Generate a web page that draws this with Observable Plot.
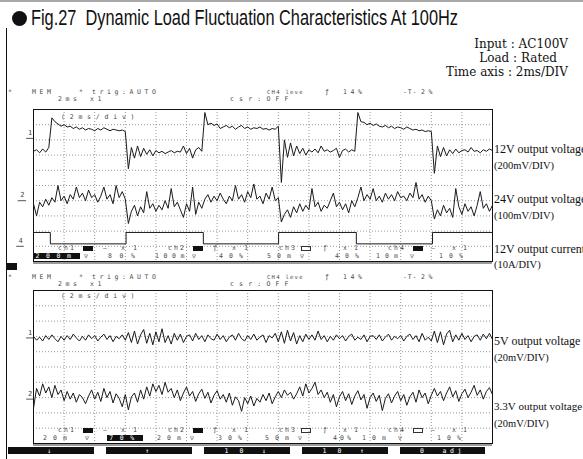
<!DOCTYPE html>
<html>
<head>
<meta charset="utf-8">
<script src="https://cdn.jsdelivr.net/npm/d3@7"></script>
<script src="https://cdn.jsdelivr.net/npm/@observablehq/plot@0.6"></script>
<style>
html,body{margin:0;padding:0;background:#fff;}
#root{position:relative;width:583px;height:459px;overflow:hidden;background:#fff;}
#root svg{position:absolute;left:0;}
.a{position:absolute;white-space:pre;}
.sc{font-family:"DejaVu Sans Mono",monospace;font-size:6.5px;line-height:6px;color:#4a4a4a;}
.serif{font-family:"DejaVu Serif","Liberation Serif",serif;color:#111;}
</style>
</head>
<body>
<div id="root"></div>
<script>
// ---------------- data ----------------
const titleText = "Fig.27  Dynamic Load Fluctuation Characteristics At 100Hz";
const conditions = ["Input : AC100V", "Load : Rated", "Time axis : 2ms/DIV"];

// sample times (ms), 0.2 ms apart over the 30 ms screen (15 div x 2 ms)
const sampleMs = d3.range(151).map(i => +(i * 0.2).toFixed(1));
const gridMs = [2, 4, 6, 8, 10, 12, 14, 16, 18, 20, 22, 24, 26, 28];
const gridDiv = [1, 2, 3, 4, 5, 6, 7, 8, 9];

// Screen 1 : 12V output voltage (mV, 200 mV/div)
const v12_mV = [
 -170,-150,-190,-140,-180,-120,
 270,
 220,190,160,180,150,160,130,150,120,140,110,130,120,100,130,110,140,120,100,120,110,100,110,90,
 -400,
 -120,-260,-100,-240,-130,-210,-150,-230,-160,-190,-170,-200,-180,-160,-190,-170,-180,
 -100,-200,-130,-260,-150,-120,-170,
 340,
 180,200,170,190,130,150,170,140,160,120,150,170,130,150,120,140,130,150,120,130,110,130,120,160,
 -580,
 -20,-250,-60,-230,-100,-200,-130,-220,-150,-180,-140,-190,-100,-170,-150,-180,-160,-130,-250,-160,-140,-180,-150,-170,
 340,
 220,210,180,200,170,190,160,150,170,140,160,130,150,140,120,150,130,110,120,100,110,90,100,90,
 -460,
 -100,-240,-120,-230,-150,-200,-140,-190,-160,-150,-180,-120,-170,-160,-190,-150,-170,-140,-160
];
// Screen 1 : 24V output voltage (mV, 100 mV/div)
const v24_mV = [
 -20,-100,-10,-40,10,-30,20,-10,100,0,30,-20,40,10,90,20,50,0,70,20,40,-10,30,90,10,40,-20,100,20,60,10,
 -150,
 -70,-30,-100,-40,-80,60,-50,-20,-70,-30,-60,0,-50,80,-40,-10,-60,-110,-20,-70,90,-90,-10,-50,
 10,40,-10,30,0,50,10,-20,30,0,100,10,40,-10,60,20,110,10,30,-20,50,10,90,0,20,
 -140,
 -90,-60,-110,-40,-80,-20,-70,-30,-60,80,-40,-10,-70,-30,-50,0,50,-40,-10,-60,-20,-80,0,-40,
 20,90,0,40,10,80,0,30,-10,50,10,40,0,60,20,30,0,50,20,120,10,40,-10,30,0,
 -120,
 -60,-100,-30,-80,-50,-110,80,-40,-90,-20,-70,-40,-100,-30,60,-50,-20,-70,-30
];
// Screen 1 : 12V output current (A, 10 A/div) - square wave corners
const i12_ms = [0, 1.1, 1.1, 6.05, 6.05, 11.1, 11.1, 16.02, 16.02, 21.1, 21.1, 26.08, 26.08, 30];
const i12_A  = [9.1, 9.1, 1.6, 1.6, 9.1, 9.1, 1.6, 1.6, 9.1, 9.1, 1.6, 1.6, 9.1, 9.1];

// Screen 2 : 5V output voltage (mV, 20 mV/div)
const v5_mV = [
 2,-3,1,-4,3,-2,4,-1,-5,2,-3,
 3,-2,5,0,-4,2,-3,4,-1,3,
 -4,1,5,-2,3,-5,2,-1,4,-3,
 7,-6,9,-8,4,11,-7,6,-9,8,
 -5,12,-6,3,-8,6,-3,5,-6,2,
 4,-4,6,-2,3,-5,4,-1,-3,5,
 -2,3,-5,1,4,-3,6,-1,-4,3,
 -2,5,-3,1,4,-6,3,0,6,-5,
 8,-7,10,-4,7,-8,3,-5,5,-2,
 4,-3,9,-2,3,-5,2,-3,4,-1,
 3,-4,2,5,-3,1,-2,4,-5,2,
 3,-2,4,-4,1,5,-3,2,-1,3,
 -4,2,5,-2,3,-5,6,-3,1,-4,
 9,-6,8,-9,5,10,-5,4,-3,6,
 -2,3,-5,2,4,-3,5,-1,6,-2
];
// Screen 2 : 3.3V output voltage (mV, 20 mV/div)
const v33_mV = [
 -12,14,4,20,8,16,2,18,6,12,-2,
 10,0,8,-4,6,2,-6,4,12,0,
 9,-3,14,2,10,-5,7,1,-10,6,
 -14,3,8,-4,12,0,16,4,20,10,
 18,6,22,9,14,2,12,-2,8,16,
 4,10,-3,7,13,1,9,-5,5,11,
 0,6,-4,8,-8,3,-2,-16,2,-6,
 4,-9,1,-4,6,-2,8,-6,3,10,
 2,12,5,9,0,7,16,4,20,8,
 14,22,6,12,2,9,-4,6,-10,3,
 10,-2,7,-7,4,11,-1,6,-12,2,
 8,-3,5,-15,1,7,-5,4,10,-2,
 6,-8,3,9,-4,12,2,8,-6,5,
 14,4,10,-2,8,16,3,11,-3,7,
 13,2,9,18,5,12,0,10,15,6
];

// ---------------- helpers ----------------
const root = document.getElementById("root");
function put(text, x, y, cls, style) {
  const el = document.createElement("div");
  el.className = "a " + (cls || "");
  el.textContent = text;
  el.style.left = x + "px";
  el.style.top = y + "px";
  if (style) Object.assign(el.style, style);
  root.appendChild(el);
  return el;
}
function box(x, y, w, h, style) {
  const el = document.createElement("div");
  el.className = "a";
  Object.assign(el.style, {left: x + "px", top: y + "px", width: w + "px", height: h + "px"}, style);
  root.appendChild(el);
  return el;
}
// scope-screen text on a character pitch (px per character)
const SC_FS = 6.5;
function sc(text, x, yc, pitch, extra) {
  const st = Object.assign({}, extra || {});
  const fs = st.fontSize ? parseFloat(st.fontSize) : SC_FS;
  st.letterSpacing = ((pitch || 7.5) - 0.602 * fs) + "px";
  return put(text, x, yc - 3, "sc", st);
}
const INK = "#1a1a1a";
function trace(times, vals, offset, perDiv) {
  const rows = vals.map((v, i) => ({t: times[i], d: offset + v / perDiv}));
  return Plot.line(rows, {x: "t", y: "d", stroke: INK, strokeWidth: 1, strokeLinejoin: "round"});
}
function gridMarks() {
  return [
    Plot.ruleX(gridMs, {stroke: "#8c8c8c", strokeWidth: 0.9, strokeDasharray: "1,2"}),
    Plot.ruleY(gridDiv, {stroke: "#8c8c8c", strokeWidth: 0.9, strokeDasharray: "1,2"}),
    Plot.ruleY([0], {stroke: "#9a9a9a", strokeWidth: 2.4, dy: 1.2}),
    Plot.frame({stroke: "#111", strokeWidth: 1})
  ];
}
function marker(label, level, x1, x2) {
  return [
    Plot.ruleY([level], {x1: x1, x2: x2, stroke: "#444", strokeWidth: 0.9}),
    Plot.text([label], {x: (x1 + x2) / 2, y: level, text: d => d, dy: -5.5,
      fontSize: 7, fontFamily: "DejaVu Sans Mono", fill: "#444"})
  ];
}
function sideLabels(rows) {
  return rows.map(r => Plot.text([r], {x: 30, y: "y", text: "t", dx: 1.5, textAnchor: "start",
    fontFamily: "Liberation Serif", fontSize: r.fs || (r.big ? 12 : 10.5), fill: "#111"}));
}

// ---------------- frame / title ----------------
box(0, 0, 583, 2, {background: "#a8a8a8"});
box(5.5, 28, 1.5, 431, {background: "#111"});
box(12, 11, 15, 15, {background: "#111", borderRadius: "50%"});
const t = put(titleText, 31, 7, "", {fontFamily: '"Liberation Sans Narrow","Liberation Sans",Arial,sans-serif',
  fontSize: "22px", lineHeight: "22px", color: "#111", transformOrigin: "0 0"});
const tw = t.getBoundingClientRect().width;
t.style.transform = "scaleX(" + (427 / tw) + ")";
const condRight = [568, 557, 568];
const condY = [44.3, 58.3, 72.3];
conditions.forEach((c, i) => {
  put(c, 0, condY[i] - 6.5, "serif", {fontSize: "12px", lineHeight: "13px", left: "auto", right: (583 - condRight[i]) + "px"});
});

// ---------------- screen 1 ----------------
const p1 = Plot.plot({
  width: 583, height: 175,
  marginLeft: 33, marginRight: 91, marginTop: 9, marginBottom: 14,
  x: {domain: [0, 30], axis: null},
  y: {domain: [0, 10], axis: null},
  style: {background: "transparent", overflow: "visible"},
  marks: [
    ...gridMarks(),
    trace(sampleMs, v12_mV, 8.1, 200),
    trace(sampleMs, v24_mV, 4.0, 100),
    trace(i12_ms, i12_A, 1.0, 10),
    ...marker("1", 8.1, -0.45, 0),
    ...marker("2", 4.0, -1.0, -0.45),
    ...marker("4", 1.0, -1.1, -0.6),
    ...sideLabels([
      {t: "12V output voltage", y: 7.37, big: true},
      {t: "(200mV/DIV)", y: 6.3},
      {t: "24V output voltage", y: 4.07, big: true},
      {t: "(100mV/DIV)", y: 3.0},
      {t: "12V output current", y: 0.84, big: true},
      {t: "(10A/DIV)", y: -0.2}
    ])
  ]
});
p1.style.top = "100px";
root.appendChild(p1);

// ---------------- screen 2 ----------------
const p2 = Plot.plot({
  width: 583, height: 176,
  marginLeft: 33, marginRight: 91, marginTop: 9, marginBottom: 14,
  x: {domain: [0, 30], axis: null},
  y: {domain: [0, 10], axis: null},
  style: {background: "transparent", overflow: "visible"},
  marks: [
    ...gridMarks(),
    trace(sampleMs, v5_mV, 6.9, 20),
    trace(sampleMs, v33_mV, 2.9, 20),
    ...marker("1", 6.9, -0.45, 0),
    ...marker("2", 2.9, -0.45, 0),
    ...sideLabels([
      {t: "5V output voltage", y: 6.67, big: true},
      {t: "(20mV/DIV)", y: 5.6},
      {t: "3.3V output voltage", y: 2.4, fs: 11.1},
      {t: "(20mV/DIV)", y: 1.3}
    ])
  ]
});
p2.style.top = "281px";
root.appendChild(p2);

// ---------------- oscilloscope screen text ----------------
function header(yA, yB) {
  sc("*", 8, yA); sc("MEM", 32, yA); sc("*", 79, yA); sc("trig:AUTO", 92, yA);
  sc("CH4 leve", 267, yA, 4.6, {fontSize: "5.6px"});
  sc("ƒ", 325, yA); sc("14%", 343, yA); sc("-T-", 403, yA, 4.8); sc("2%", 421, yA);
  sc("2ms", 58, yB); sc("x1", 90, yB); sc("csr:OFF", 230, yB, 9.1);
}
header(91.5, 99);
header(276.5, 284);
sc("(2ms/div)", 61, 117, 8.7);
sc("(2ms/div)", 61, 296, 8.7);

const rowC = [["ch1",58,6],["—",103],["x",121],["1",133],["ch2",168,6],["ƒ",213],["x",232],["1",244],
  ["ch3",279,6],["ƒ",323],["x",343],["1",354],["ch4",388,6],["—",431],["x",452],["1",463]];
function status(bottom, fills, rowD) {
  const yC = bottom - 12.8, yD = bottom - 5;
  rowC.forEach(r => sc(r[0], r[1], yC, r[2]));
  [83, 193, 301, 413].forEach((x, i) => box(x, yC - 2.5, 10, 5,
    fills[i] ? {background: "#111"} : {border: "1px solid #333", width: "8px", height: "3px"}));
  rowD.forEach(r => {
    if (r[3] === "inv") sc(r[0], r[1], yD, r[2], {background: "#111", color: "#fff", width: r[4] + "px", textAlign: "center"});
    else sc(r[0], r[1], yD, r[2]);
  });
}
status(261, [1, 1, 0, 1], [["200m",33,10.5,"inv",47],["▽",84],["80%",108,11.5],["100m",155,8.5],["▽",192],["40%",219,10],
  ["50m",267,10],["▽",300],["40%",335,10],["10m",376,9],["▽",410],["10%",439,10]]);
status(443, [1, 1, 0, 0], [["20m",43,10],["▽",85],["70%",107,10.5,"inv",36],["20m",157,10],["▽",190],["30%",218,10],
  ["50m",265,10],["▽",298],["40%",333,7],["10m",362,10],["▽",398],["10%",437,10]]);

box(7, 263, 10, 7, {background: "#111"});

// soft keys
[[8,94,"↓"],[106,192,"↑"],[204,290,"1 0  ↓"],[302,388,"1 0  ↑"],[400,485,"0  adj"]].forEach(k => {
  box(k[0], 447, k[1] - k[0], 7, {background: "#111"});
  sc(k[2], k[0], 450.5, 7.5, {color: "#fff", width: (k[1] - k[0]) + "px", textAlign: "center"});
});
</script>
</body>
</html>
